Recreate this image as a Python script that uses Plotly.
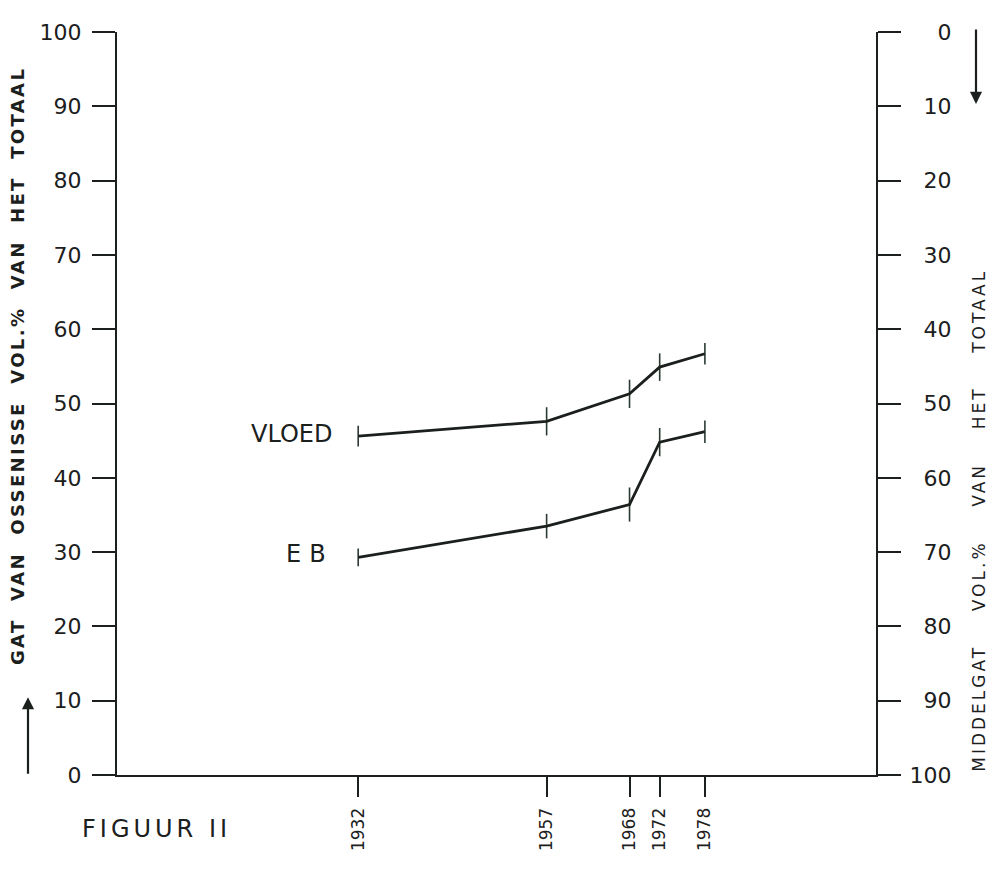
import plotly.graph_objects as go

# ---- data ----
years = [1932, 1957, 1968, 1972, 1978]
vloed = [45.6, 47.6, 51.3, 54.9, 56.7]
vloed_err = [1.4, 1.9, 1.9, 1.85, 1.45]
eb = [29.3, 33.5, 36.4, 44.8, 46.2]
eb_err = [1.2, 1.65, 2.3, 1.9, 1.5]
year_labels = ["1932", "1957", "1968", "1972", "1978"]
left_ticks = [0, 10, 20, 30, 40, 50, 60, 70, 80, 90, 100]
right_ticks = [0, 10, 20, 30, 40, 50, 60, 70, 80, 90, 100]
right_labels = ["\u2007\u20070", "\u200710", "\u200720", "\u200730", "\u200740",
                "\u200750", "\u200760", "\u200770", "\u200780", "\u200790", "100"]

INK = "#1b201d"
FONT = "DejaVu Sans"
OFF = 8                      # default page body margin
W, H = 997 - 2 * OFF, 871 - 2 * OFF
# plot area in page pixels: x 117..876, y 23..777
L, R, T, B = 117 - OFF, W + OFF - 876, 23 - OFF, H + OFF - 777

def px(xp):
    return (xp - 117) / (876 - 117)

def py(yp):
    return (777 - yp) / (777 - 23)

fig = go.Figure()
for vals, errs in [(vloed, vloed_err), (eb, eb_err)]:
    fig.add_trace(go.Scatter(
        x=years, y=vals, mode="lines",
        line=dict(color=INK, width=2.8),
        error_y=dict(type="data", array=errs, symmetric=True, width=0,
                     thickness=1.6, color="#2b3a31"),
        showlegend=False, hoverinfo="skip"))
# invisible trace for the right axis
fig.add_trace(go.Scatter(x=[years[0]], y=[None], yaxis="y2", showlegend=False,
                         hoverinfo="skip"))

sp = "\u00a0"
left_title = (" " + sp).join(["GAT", "VAN", "OSSENISSE", "VOL.%", "VAN", "HET", "TOTAAL"])
right_title = (" " + sp * 3).join(["MIDDELGAT", "VOL.%", "VAN", "HET", "TOTAAL"])

annotations = [
    dict(x=years[0], y=vloed[0], xref="x", yref="y", text="VLOED",
         showarrow=False, xanchor="right", yanchor="middle", xshift=-24, yshift=2,
         font=dict(family=FONT, size=24, color=INK)),
    dict(x=years[0], y=eb[0], xref="x", yref="y",
         text="<span style='letter-spacing:8px'>E</span>B",
         showarrow=False, xanchor="right", yanchor="middle", xshift=-30, yshift=3,
         font=dict(family=FONT, size=24, color=INK)),
    dict(x=px(17), y=py(362), xref="paper", yref="paper",
         text="<span style='letter-spacing:2.4px'><b>" + left_title + "</b></span>",
         showarrow=False, textangle=-90, xanchor="center", yanchor="middle",
         font=dict(family=FONT, size=18, color=INK)),
    dict(x=px(979), y=py(519), xref="paper", yref="paper",
         text="<span style='letter-spacing:3px'>" + right_title + "</span>",
         showarrow=False, textangle=-90, xanchor="center", yanchor="middle",
         font=dict(family=FONT, size=17, color=INK)),
    dict(x=px(80), y=py(832), xref="paper", yref="paper",
         text="<span style='letter-spacing:4px'>FIGUUR II</span>",
         showarrow=False, xanchor="left", yanchor="middle",
         font=dict(family=FONT, size=24, color=INK)),
    dict(x=px(28), y=py(698), xref="paper", yref="paper", text="",
         showarrow=True, ax=0, ay=78, arrowhead=2, arrowsize=1.1, arrowwidth=2.2,
         arrowcolor=INK),
    dict(x=px(976), y=py(96), xref="paper", yref="paper", text="",
         showarrow=True, ax=0, ay=-76, arrowhead=2, arrowsize=1.1, arrowwidth=2.2,
         arrowcolor=INK),
]

fig.update_layout(
    width=W, height=H, autosize=False,
    margin=dict(l=L, r=R, t=T, b=B, pad=0),
    paper_bgcolor="white", plot_bgcolor="white",
    font=dict(family=FONT, color=INK),
    annotations=annotations,
    xaxis=dict(range=[1900, 2000.7], showgrid=False, zeroline=False,
               showline=True, linecolor=INK, linewidth=2,
               tickmode="array", tickvals=years, ticktext=year_labels,
               ticks="outside", ticklen=20, tickwidth=1.5, tickcolor=INK,
               tickangle=-90, tickfont=dict(family=FONT, size=17, color=INK),
               ticklabelstandoff=4),
    yaxis=dict(range=[0, 100], showgrid=False, zeroline=False,
               showline=True, linecolor=INK, linewidth=2,
               tickmode="array", tickvals=left_ticks,
               ticks="outside", ticklen=23, tickwidth=2, tickcolor=INK,
               tickfont=dict(family=FONT, size=22, color=INK),
               ticklabelstandoff=6),
    yaxis2=dict(range=[100, 0], overlaying="y", side="right", anchor="x",
                showgrid=False, zeroline=False,
                showline=True, linecolor=INK, linewidth=2,
                tickmode="array", tickvals=right_ticks, ticktext=right_labels,
                ticks="outside", ticklen=23, tickwidth=2, tickcolor=INK,
                tickfont=dict(family=FONT, size=22, color=INK),
                ticklabelstandoff=4),
)

fig.write_html("out.html")
